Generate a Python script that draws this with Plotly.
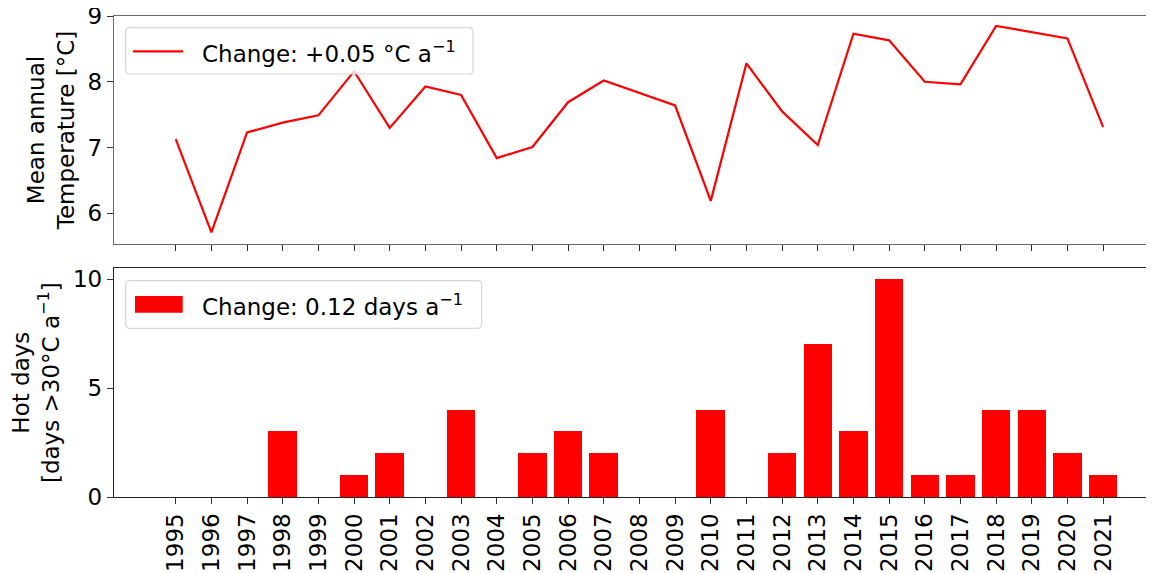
import plotly.graph_objects as go

years = list(range(1995, 2022))
temperature = [7.13, 5.71, 7.23, 7.38, 7.49, 8.16, 7.30, 7.93, 7.80, 6.84,
               7.01, 7.69, 8.02, 7.83, 7.64, 6.19, 8.28, 7.55, 7.04, 8.73,
               8.63, 8.00, 7.96, 8.85, 8.75, 8.66, 7.31]
hot_days = [0, 0, 0, 3, 0, 1, 2, 0, 4, 0,
            2, 3, 2, 0, 0, 4, 0, 2, 7, 3,
            10, 1, 1, 4, 4, 2, 1]
year_labels = [str(y) for y in years]
temp_ticks = [6, 7, 8, 9]
hot_ticks = [0, 5, 10]
legend_temp = "Change: +0.05 °C a<sup>−1</sup>"
legend_hot = "Change: 0.12 days a<sup>−1</sup>"

# page has an 8px body margin; work in page pixel coordinates
OFF = 8
W, H = 1154, 573
PLOT_L, PLOT_T, PLOT_B = 114, 16, 497        # page px
ML = PLOT_L - OFF
MT = PLOT_T - OFF
MB = (H + OFF) - PLOT_B
MR = 0
PW = W - ML - MR
PH = H - MT - MB
FONT = "DejaVu Sans"
FS = 23
RED = "#ff0000"

PX_PER_YEAR = 35.67
x_start = 1993.27
x_end = x_start + PW / PX_PER_YEAR


def xp(px):
    return (px - PLOT_L) / PW


def yp(py):
    return (PLOT_B - py) / PH


fig = go.Figure()
fig.add_trace(go.Scatter(x=years, y=temperature, mode="lines",
                         line=dict(color=RED, width=2.2),
                         xaxis="x", yaxis="y", showlegend=False))
fig.add_trace(go.Bar(x=years, y=hot_days, width=0.8,
                     marker=dict(color=RED, line=dict(width=0)),
                     xaxis="x2", yaxis="y2", showlegend=False))

common_x = dict(range=[x_start, x_end], tickmode="array", tickvals=years,
                ticks="outside", ticklen=6, tickwidth=1.2, tickcolor="#333",
                showgrid=False, zeroline=False, showline=True, mirror=True,
                linewidth=1.3)
common_y = dict(ticks="outside", ticklen=6, tickwidth=1.2, tickcolor="#333",
                showgrid=False, zeroline=False, showline=True, linewidth=1.3,
                tickmode="array", tickfont=dict(size=FS),
                ticklabeloverflow="allow")
fig.update_layout(
    width=W, height=H,
    margin=dict(l=ML, r=MR, t=MT, b=MB, autoexpand=False),
    paper_bgcolor="white", plot_bgcolor="white",
    font=dict(family=FONT, size=FS, color="black"),
    bargap=0,
    xaxis=dict(domain=[0, 1], anchor="y", showticklabels=False,
               linecolor="#6a6a6a", **common_x),
    yaxis=dict(domain=[yp(244), 1], anchor="x", range=[5.535, 9.0],
               tickvals=temp_ticks, linecolor="#6a6a6a",
               title=dict(text="Mean annual<br>Temperature [°C]",
                          font=dict(size=FS), standoff=6),
               **common_y),
    xaxis2=dict(domain=[0, 1], anchor="y2", ticktext=year_labels,
                tickangle=-90, tickfont=dict(size=FS),
                ticklabeloverflow="allow",
                linecolor="#222", **common_x),
    yaxis2=dict(domain=[0, yp(268.3)], anchor="x2", range=[0, 10.5],
                tickvals=hot_ticks, linecolor="#222",
                title=dict(text="Hot days<br>[days >30°C a<sup>−1</sup>]",
                           font=dict(size=FS), standoff=12),
                **common_y),
)


def rounded_box(x0, y0, x1, y1, r=4):
    pts = [
        f"M{xp(x0 + r)},{yp(y0)}",
        f"L{xp(x1 - r)},{yp(y0)}",
        f"Q{xp(x1)},{yp(y0)} {xp(x1)},{yp(y0 + r)}",
        f"L{xp(x1)},{yp(y1 - r)}",
        f"Q{xp(x1)},{yp(y1)} {xp(x1 - r)},{yp(y1)}",
        f"L{xp(x0 + r)},{yp(y1)}",
        f"Q{xp(x0)},{yp(y1)} {xp(x0)},{yp(y1 - r)}",
        f"L{xp(x0)},{yp(y0 + r)}",
        f"Q{xp(x0)},{yp(y0)} {xp(x0 + r)},{yp(y0)}",
        "Z",
    ]
    return dict(type="path", xref="paper", yref="paper", path=" ".join(pts),
                line=dict(color="#d6d6d6", width=1.2),
                fillcolor="rgba(255,255,255,0.8)", layer="above")


shapes = [
    rounded_box(125.7, 27.7, 473, 74),
    dict(type="line", xref="paper", yref="paper",
         x0=xp(133), x1=xp(183), y0=yp(51.3), y1=yp(51.3),
         line=dict(color=RED, width=2.2), layer="above"),
    rounded_box(125.7, 280.7, 481.7, 328.3),
    dict(type="rect", xref="paper", yref="paper",
         x0=xp(135), x1=xp(182.7), y0=yp(312.7), y1=yp(296),
         line=dict(width=0), fillcolor=RED, layer="above"),
]
annotations = [
    dict(text=legend_temp, xref="paper", yref="paper", x=xp(200), y=yp(51.5),
         xanchor="left", yanchor="middle", showarrow=False,
         font=dict(size=FS, family=FONT, color="black")),
    dict(text=legend_hot, xref="paper", yref="paper", x=xp(200), y=yp(304.5),
         xanchor="left", yanchor="middle", showarrow=False,
         font=dict(size=FS, family=FONT, color="black")),
]
fig.update_layout(shapes=shapes, annotations=annotations)

fig.write_html("out.html")
